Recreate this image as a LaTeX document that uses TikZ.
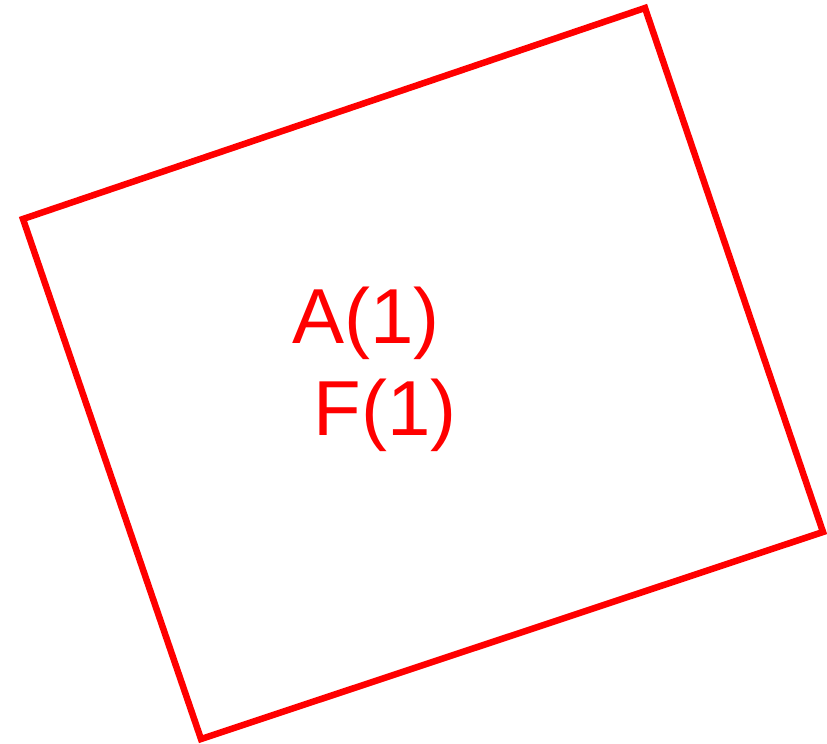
\documentclass[tikz,border=0pt]{standalone}
\usepackage{fontspec}
\setmainfont{Liberation Sans}
\begin{document}
\begin{tikzpicture}[x=1pt,y=-1pt,
  frame/.style={draw=red, line width=6.5pt, line join=miter},
  lbl/.style={text=red, font=\fontsize{78}{92}\selectfont, inner sep=0pt, anchor=base}]
\useasboundingbox (0,0) rectangle (827,744);
\coordinate (tl) at (23,219);
\coordinate (tr) at (645,8);
\coordinate (br) at (823,532);
\coordinate (bl) at (201,739);
\draw[frame] (tl) -- (tr) -- (br) -- (bl) -- cycle;
\node[lbl] (a) at (366,343) {A(1)};
\node[lbl] (f) at (385,435) {F(1)};
\end{tikzpicture}
\end{document}
